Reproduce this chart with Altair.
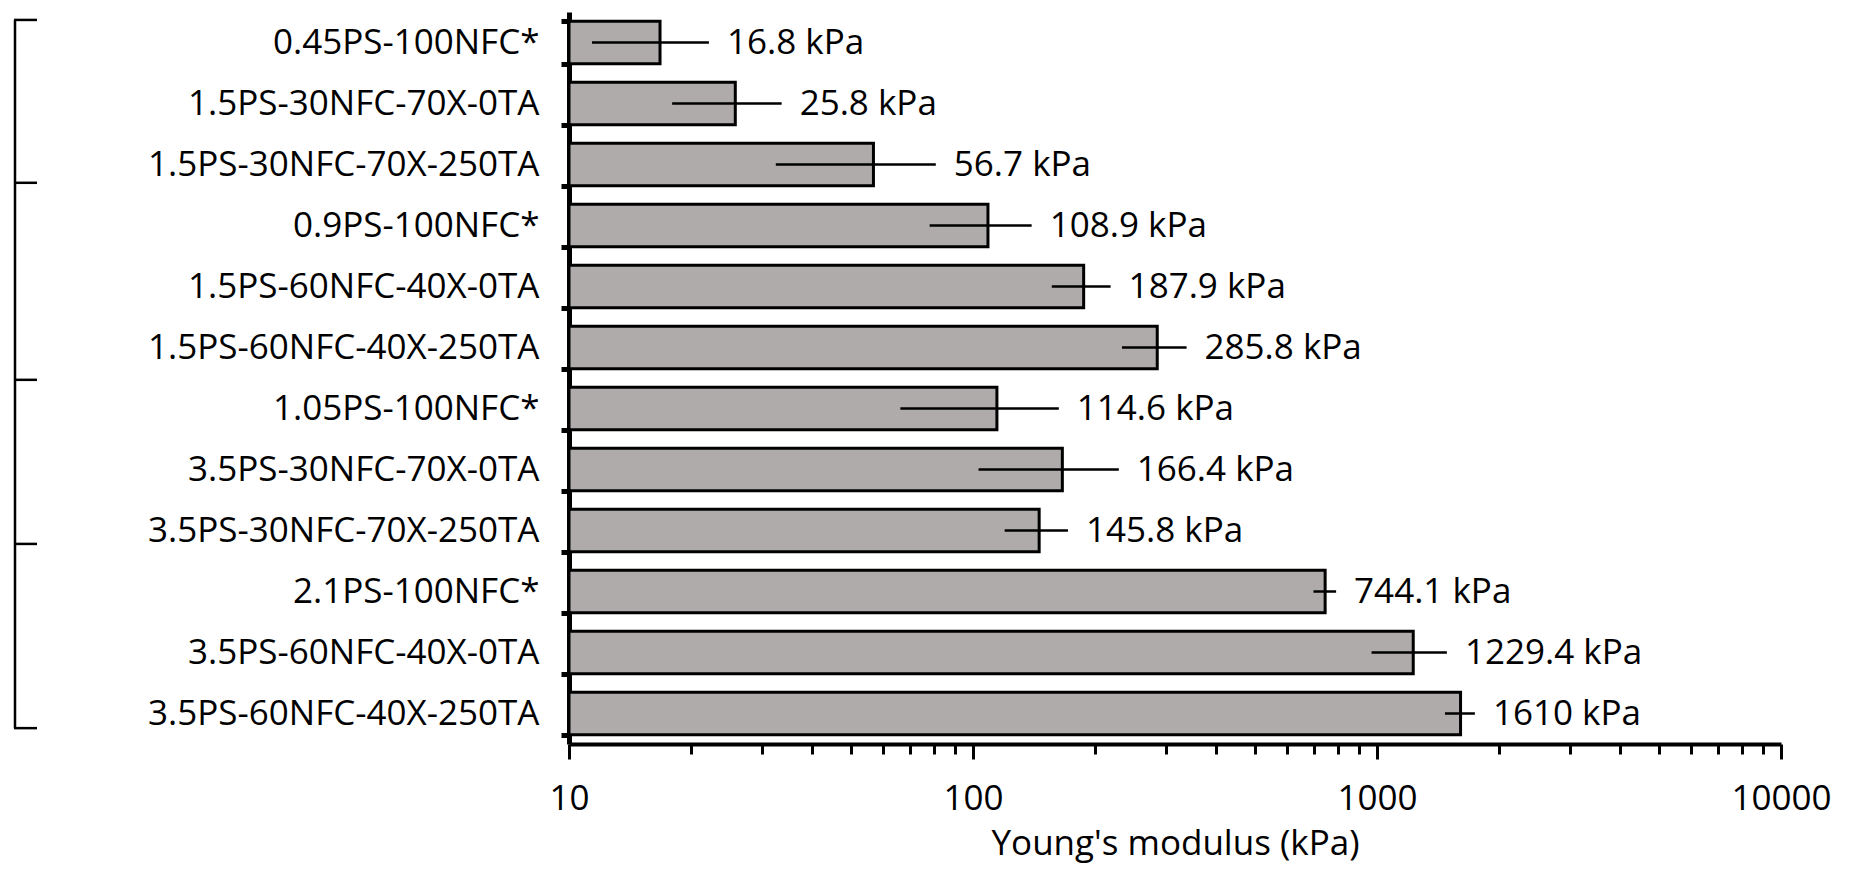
import altair as alt
import pandas as pd

samples = ["0.45PS-100NFC*", "1.5PS-30NFC-70X-0TA", "1.5PS-30NFC-70X-250TA",
           "0.9PS-100NFC*", "1.5PS-60NFC-40X-0TA", "1.5PS-60NFC-40X-250TA",
           "1.05PS-100NFC*", "3.5PS-30NFC-70X-0TA", "3.5PS-30NFC-70X-250TA",
           "2.1PS-100NFC*", "3.5PS-60NFC-40X-0TA", "3.5PS-60NFC-40X-250TA"]
modulus = [16.8, 25.8, 56.7, 108.9, 187.9, 285.8, 114.6, 166.4, 145.8, 744.1, 1229.4, 1610]
sd = [5.4, 7.8, 24.2, 30.8, 31.2, 52, 48.5, 63.2, 26, 48, 260, 137]
value_labels = ["16.8 kPa", "25.8 kPa", "56.7 kPa", "108.9 kPa", "187.9 kPa", "285.8 kPa",
                "114.6 kPa", "166.4 kPa", "145.8 kPa", "744.1 kPa", "1229.4 kPa", "1610 kPa"]

# group bracket positions, in row units (0 = top of the plot, 12 = bottom)
bracket_ticks = [0.13, 2.8, 6.03, 8.72, 11.74]

major = [10, 100, 1000, 10000]
minor = [m * d for d in (10, 100, 1000) for m in range(2, 10)]
tick_values = sorted(major + minor)

df = pd.DataFrame({
    "sample": samples,
    "E": modulus,
    "lo": [v - s for v, s in zip(modulus, sd)],
    "hi": [v + s for v, s in zip(modulus, sd)],
    "label": value_labels,
})
br_ticks = pd.DataFrame({"pos": bracket_ticks})
br_line = pd.DataFrame({"start": [bracket_ticks[0]], "end": [bracket_ticks[-1]]})

FONT = "Open Sans"
FS = 35
is_major = "datum.value == 10 || datum.value == 100 || datum.value == 1000 || datum.value == 10000"

xscale = alt.Scale(type="log", domain=[10, 10000])
yenc = alt.Y("sample:N", sort=samples,
             scale=alt.Scale(paddingInner=0.3, paddingOuter=0.15),
             axis=alt.Axis(title=None, tickBand="extent", tickSize=8, tickWidth=5,
                           tickColor="black", domainColor="black",
                           domainWidth=5, labelPadding=22, labelFontSize=FS,
                           labelFont=FONT, labelColor="black", labelLimit=600))

bars = alt.Chart(df).mark_bar(fill="#afabaa", stroke="black", strokeWidth=3).encode(
    x=alt.X("E:Q", scale=xscale,
            axis=alt.Axis(values=tick_values, title="Young's modulus (kPa)",
                          labelExpr=f"({is_major}) ? datum.label : ''",
                          format="d",
                          tickSize={"condition": {"test": is_major, "value": 15}, "value": 10},
                          tickWidth=3, tickColor="black", domainColor="black",
                          domainWidth=4, labelPadding=22,
                          labelFontSize=FS, labelFont=FONT, labelColor="black",
                          titleFontSize=FS, titleFont=FONT, titleFontWeight="normal",
                          titleColor="black", titlePadding=10, grid=False,
                          labelFlush=False, labelOverlap=False)),
    x2=alt.datum(10),
    y=yenc,
)

err = alt.Chart(df).mark_rule(color="black", strokeWidth=2.5).encode(
    x=alt.X("lo:Q", scale=xscale),
    x2="hi:Q",
    y=alt.Y("sample:N", sort=samples),
)

txt = alt.Chart(df).mark_text(align="left", baseline="middle", dx=18,
                              font=FONT, fontSize=FS, color="black").encode(
    x=alt.X("hi:Q", scale=xscale),
    y=alt.Y("sample:N", sort=samples),
    text="label:N",
)

main = alt.layer(bars, err, txt)

bscale = alt.Scale(domain=[0, 12], reverse=True)
b_vert = alt.Chart(br_line).mark_rule(color="black", strokeWidth=2.5).encode(
    x=alt.value(-554),
    y=alt.Y("start:Q", scale=bscale, axis=None),
    y2="end:Q",
)
b_ticks = alt.Chart(br_ticks).mark_rule(color="black", strokeWidth=2.5).encode(
    x=alt.value(-555),
    x2=alt.value(-532),
    y=alt.Y("pos:Q", scale=bscale, axis=None),
)
bracket = alt.layer(b_vert, b_ticks)

chart = alt.layer(main, bracket).resolve_scale(y="independent").properties(
    width=1212, height=732,
    autosize=alt.AutoSizeParams(type="none"),
    padding={"left": 561, "top": 4, "right": 60, "bottom": 120},
    view=alt.ViewBackground(stroke="transparent", strokeWidth=0),
).configure_view(stroke="transparent", strokeWidth=0).configure(background="white")

chart.save("out.html", embed_options={"renderer": "svg", "actions": False})
